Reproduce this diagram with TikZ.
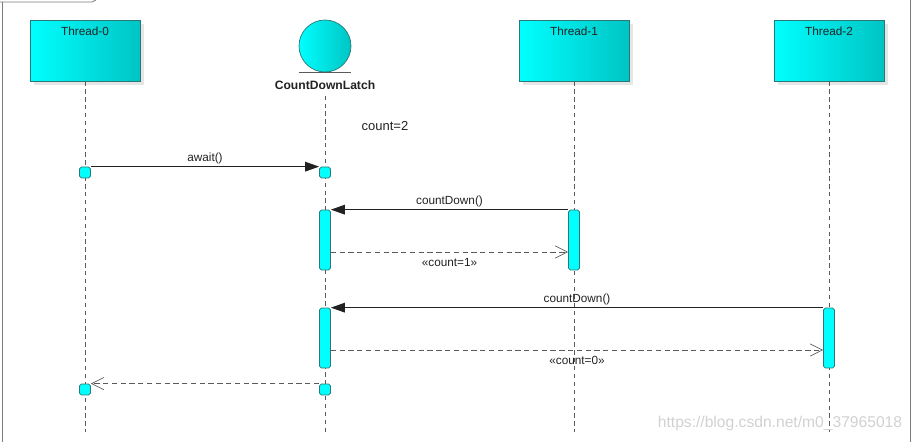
\documentclass[tikz,border=0pt]{standalone}
\usepackage{fontspec}
\setmainfont{Liberation Sans}
\usetikzlibrary{arrows.meta,shadows}
\definecolor{aqua}{HTML}{00FFFF}
\definecolor{aquadark}{HTML}{00C4C4}
\definecolor{rim}{HTML}{2B7878}
\definecolor{ink}{HTML}{222222}
\definecolor{life}{HTML}{5A5A5A}
\tikzset{
  thread/.style={rectangle,draw=rim,left color=aqua,right color=aquadark,minimum width=2.2cm,minimum height=1.22cm,drop shadow={shadow xshift=2.5pt,shadow yshift=-2.5pt,opacity=.2}},
  entity/.style={circle,draw=rim,left color=aqua,right color=aquadark,minimum size=1.04cm,inner sep=0pt},
  act/.style={rectangle,rounded corners=1pt,draw=rim,fill=aqua,minimum width=0.22cm,inner sep=0pt},
  lifeline/.style={life,thin,dash pattern=on 2.5pt off 2pt},
  call/.style={-{Triangle[length=8pt,width=5.5pt]},ink,semithick},
  reply/.style={-{Straight Barb[length=7pt,width=7pt]},life,thin,dash pattern=on 3pt off 2pt},
  lbl/.style={font=\fontsize{6.7}{8}\selectfont,text=ink}
}

\begin{document}
\begin{tikzpicture}[x=0.02cm,y=-0.02cm]
  \useasboundingbox (0,0) rectangle (913,442);
  \draw[life!80] (0,2) -- (92,2) -- (96,0);
  \draw[life!80] (2,2) -- (2,442);
  \draw[life!80] (910,0) -- (910,442);

  % participants
  \node[thread,label={[lbl,anchor=center,yshift=-0.24cm]north:Thread-0}] (t0) at (85,50.5) {};
  \node[entity] (latch) at (325,46) {};
  \draw[life] (latch.south -| latch.west) -- (latch.south -| latch.east);
  \node[lbl,font=\fontsize{6.9}{8}\selectfont\bfseries] (latchname) at (325,85) {CountDownLatch};
  \node[thread,label={[lbl,anchor=center,yshift=-0.24cm]north:Thread-1}] (t1) at (574,50.5) {};
  \node[thread,label={[lbl,anchor=center,yshift=-0.24cm]north:Thread-2}] (t2) at (829,50.5) {};

  \coordinate (bottom) at (0,432);
  \draw[lifeline] (t0.south) -- (t0.south |- bottom);
  \draw[lifeline] (latchname.south) -- (latchname.south |- bottom);
  \draw[lifeline] (t1.south) -- (t1.south |- bottom);
  \draw[lifeline] (t2.south) -- (t2.south |- bottom);

  \node[font=\fontsize{7.4}{9}\selectfont,text=ink] (count) at (385,126) {count=2};

  % activations
  \node[act,minimum height=0.22cm] (a0) at (85,172.5) {};
  \node[act,minimum height=0.22cm] (l0) at (325,172.5) {};
  \node[act,minimum height=1.2cm] (l1) at (325,240) {};
  \node[act,minimum height=1.2cm] (c1) at (574,240) {};
  \node[act,minimum height=1.2cm] (l2) at (325,338) {};
  \node[act,minimum height=1.2cm] (c2) at (829,338) {};
  \node[act,minimum height=0.22cm] (l3) at (325,389.5) {};
  \node[act,minimum height=0.22cm] (a1) at (85,389.5) {};

  % messages
  \draw[call] (a0.north east) -- node[lbl,above,inner sep=1pt] {await()} (l0.north west);
  \draw[call] (c1.north west) -- node[lbl,above,inner sep=1pt] {countDown()} (l1.north east);
  \coordinate (r1) at (0,252);
  \draw[reply] (l1.east |- r1) -- node[lbl,below] {«count=1»} (c1.west |- r1);
  \draw[call] (c2.north west) -- node[lbl,above,inner sep=1pt] {countDown()} (l2.north east);
  \coordinate (r2) at (0,350);
  \draw[reply] (l2.east |- r2) -- node[lbl,below] {«count=0»} (c2.west |- r2);
  \draw[reply] (l3.north west) -- (a1.north east);

  \node[font=\fontsize{8.9}{10}\selectfont,text=black!18] (mark) at (780,423) {https://blog.csdn.net/m0\_37965018};
\end{tikzpicture}
\end{document}
